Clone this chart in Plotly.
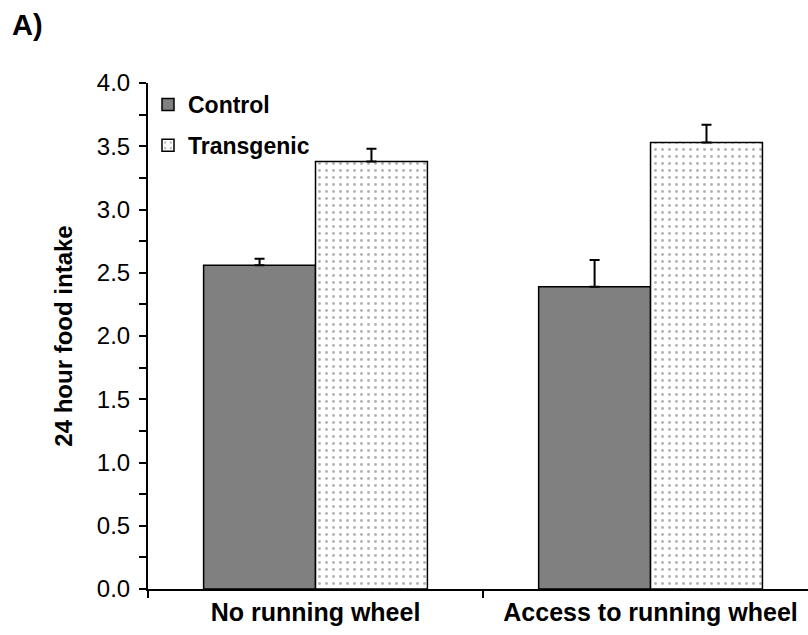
import plotly.graph_objects as go

# Mean 24-hour food intake per condition, with upper error bars
conditions = ["No running wheel", "Access to running wheel"]
control_mean = [2.56, 2.39]
control_err = [0.05, 0.21]
transgenic_mean = [3.38, 3.53]
transgenic_err = [0.10, 0.14]

FONT = "Arial, Liberation Sans, sans-serif"

fig = go.Figure()

fig.add_trace(go.Bar(
    name="Control",
    x=conditions,
    y=control_mean,
    marker=dict(color="#808080", line=dict(color="black", width=1.5)),
    error_y=dict(type="data", array=control_err, arrayminus=[0, 0],
                 symmetric=False, color="black", thickness=2, width=5),
    legendgroup="c",
))

fig.add_trace(go.Bar(
    name="Transgenic",
    x=conditions,
    y=transgenic_mean,
    marker=dict(
        color="white",
        line=dict(color="black", width=1.5),
        pattern=dict(shape=".", fgcolor="#666666", bgcolor="white",
                     size=7, solidity=0.14, fillmode="overlay"),
    ),
    error_y=dict(type="data", array=transgenic_err, arrayminus=[0, 0],
                 symmetric=False, color="black", thickness=2, width=5),
    legendgroup="t",
))

fig.update_layout(
    width=808,
    height=635,
    margin=dict(l=148, r=0, t=83, b=46),
    paper_bgcolor="white",
    plot_bgcolor="white",
    barmode="group",
    bargap=0.332,
    bargroupgap=0,
    font=dict(family=FONT, size=24, color="black"),
    showlegend=True,
    legend=dict(
        x=0.0, y=1.0, xanchor="left", yanchor="top",
        bgcolor="rgba(0,0,0,0)",
        font=dict(family=FONT, size=23, color="black", weight="bold"),
        traceorder="grouped",
        tracegroupgap=8,
        itemwidth=30,
    ),
    annotations=[dict(
        text="<b>A)</b>", xref="paper", yref="paper",
        x=-148 / 660, y=1 + 83 / 506, xanchor="left", yanchor="top",
        xshift=10, yshift=-7,
        showarrow=False, font=dict(family=FONT, size=29, color="black"),
    )],
)

fig.update_xaxes(
    range=[-0.5, 1.47],
    showline=True, linecolor="black", linewidth=2,
    ticks="outside", tickson="boundaries", ticklen=7, tickwidth=2,
    tickcolor="black",
    tickfont=dict(family=FONT, size=25, color="black", weight="bold"),
    showgrid=False, zeroline=False,
)

fig.update_yaxes(
    range=[0, 4.0],
    dtick=0.5, tick0=0, tickformat=".1f",
    showline=True, linecolor="black", linewidth=2,
    ticks="outside", ticklen=7, tickwidth=2, tickcolor="black",
    ticklabelstandoff=4,
    minor=dict(dtick=0.25, ticks="outside", ticklen=7, tickwidth=2,
               tickcolor="black", showgrid=False),
    tickfont=dict(family=FONT, size=24, color="black"),
    title=dict(text="<b>24 hour food intake</b>", standoff=17,
               font=dict(family=FONT, size=24, color="black")),
    showgrid=False, zeroline=False,
)

fig.write_html("out.html")
